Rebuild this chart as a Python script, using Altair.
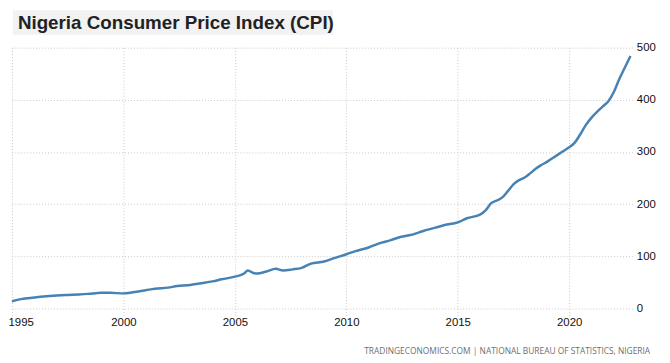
import altair as alt
import pandas as pd

# Data
dates = [
    "1995-01-01", "1995-06-01", "1996-01-01", "1996-06-01", "1997-01-01", "1997-06-01",
    "1998-01-01", "1998-06-01", "1999-01-01", "1999-06-01", "2000-01-01", "2000-06-01",
    "2001-01-01", "2001-06-01", "2002-01-01", "2002-06-01", "2003-01-01", "2003-06-01",
    "2004-01-01", "2004-06-01", "2005-01-01", "2005-06-01", "2005-08-01", "2005-11-01",
    "2006-01-01", "2006-06-01", "2006-11-01", "2007-03-01", "2007-08-01", "2008-01-01",
    "2008-06-01", "2009-01-01", "2009-06-01", "2010-01-01", "2010-06-01", "2011-01-01",
    "2011-06-01", "2012-01-01", "2012-06-01", "2013-01-01", "2013-06-01", "2014-01-01",
    "2014-06-01", "2015-01-01", "2015-06-01",
    "2016-01-01", "2016-04-01", "2016-07-01", "2016-10-01",
    "2017-01-01", "2017-04-01", "2017-07-01", "2017-10-01",
    "2018-01-01", "2018-04-01", "2018-07-01", "2018-10-01",
    "2019-01-01", "2019-04-01", "2019-07-01", "2019-10-01",
    "2020-01-01", "2020-04-01", "2020-07-01", "2020-10-01",
    "2021-01-01", "2021-04-01", "2021-07-01", "2021-10-01",
    "2022-01-01", "2022-04-01", "2022-07-01", "2022-10-01",
]
cpi = [
    14, 18, 21, 23, 25, 26,
    27, 28, 30, 30, 29, 31,
    35, 38, 40, 43, 45, 48,
    52, 56, 61, 67, 73, 68,
    67, 71, 76, 73, 75, 78,
    86, 90, 96, 104, 110, 117,
    124, 131, 137, 142, 148, 155,
    160, 165, 173,
    180, 188, 202, 207,
    213, 225, 238, 246,
    251, 259, 268, 275,
    281, 288, 295, 302,
    309, 318, 334, 352,
    366, 377, 387, 397,
    415, 440, 462, 484,
]
x_tick_years = [1995, 2000, 2005, 2010, 2015, 2020]
y_ticks = [0, 100, 200, 300, 400, 500]

title_text = "Nigeria Consumer Price Index (CPI)"
source_text = "TRADINGECONOMICS.COM  |  NATIONAL BUREAU OF STATISTICS, NIGERIA"

df = pd.DataFrame({"date": dates, "cpi": cpi})
one = pd.DataFrame({"t": [title_text], "s": [source_text]})

W, H = 628, 264

grid_color = "#c8c8c8"

line = alt.Chart(df).mark_line(color="#4682b4", strokeWidth=2.5, interpolate="monotone").encode(
    x=alt.X(
        "date:T",
        scale=alt.Scale(
            type="utc",
            domain=[alt.DateTime(year=1995, month=1, date=1, utc=True),
                    alt.DateTime(year=2022, month=11, date=1, utc=True)],
            nice=False,
        ),
        axis=alt.Axis(
            title=None,
            values=[alt.DateTime(year=y, month=1, date=1, utc=True) for y in x_tick_years],
            format="%Y",
            grid=True,
            gridColor=grid_color,
            gridDash=[1, 2],
            domain=False,
            ticks=True,
            tickSize=8,
            tickColor=grid_color,
            tickDash=[1, 2],
            labelPadding=0,
            labelFlush=True,
            labelFlushOffset=4,
            labelFont="Liberation Sans",
            labelFontSize=11.5,
            labelColor="#111",
        ),
    ),
    y=alt.Y(
        "cpi:Q",
        scale=alt.Scale(domain=[0, 500], nice=False),
        axis=alt.Axis(
            title=None,
            orient="right",
            values=y_ticks,
            grid=True,
            gridColor=grid_color,
            gridDash=[1, 2],
            domain=False,
            ticks=False,
            tickSize=0,
            labelPadding=4,
            labelFont="Liberation Sans",
            labelFontSize=11.5,
            labelColor="#111",
        ),
    ),
)

title_bg = alt.Chart(one).mark_rect(color="#f2f2f2").encode(
    x=alt.value(1), x2=alt.value(325), y=alt.value(-38), y2=alt.value(-13)
)
title = alt.Chart(one).mark_text(
    align="left", baseline="alphabetic", font="Liberation Sans", fontSize=19,
    fontWeight="bold", color="#222"
).encode(text="t:N", x=alt.value(6), y=alt.value(-18.7))

source = alt.Chart(one).mark_text(
    align="right", baseline="middle", font="Open Sans", fontSize=8.5,
    color="#6e6e6e"
).encode(text="s:N", x=alt.value(646), y=alt.value(306.7))

chart = alt.layer(title_bg, title, line, source).properties(
    width=W, height=H,
    autosize=alt.AutoSizeParams(type="none"),
    padding={"left": 4, "top": 38, "right": 30, "bottom": 53},
).configure_view(stroke=None)

chart.save("out.html", embed_options={"renderer": "svg", "actions": False})
